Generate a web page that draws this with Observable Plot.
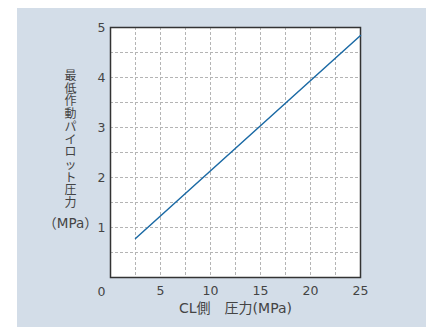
<!DOCTYPE html>
<html><head><meta charset="utf-8">
<script src="https://cdn.jsdelivr.net/npm/d3@7"></script>
<script src="https://cdn.jsdelivr.net/npm/@observablehq/plot@0.6"></script>
<style>
html,body{margin:0;padding:0;background:#fff;}
#wrap{position:relative;width:432px;height:327px;overflow:hidden;}
#bg{position:absolute;left:17px;top:8px;width:409px;height:319px;background:#d3dde8;}
#chart{position:absolute;left:0;top:0;}
</style></head>
<body>
<div id="wrap"><div id="bg"></div><div id="chart"></div></div>
<script>
const clPressure = [2.5, 25];
const pilotPressure = [0.78, 4.84];
const xTicks = [5, 10, 15, 20, 25];
const yTicks = [1, 2, 3, 4, 5];
const xGrid = [2.5, 5, 7.5, 10, 12.5, 15, 17.5, 20, 22.5];
const yGrid = [0.5, 1, 1.5, 2, 2.5, 3, 3.5, 4, 4.5];
const yLabel = "最低作動パイロット圧力";
const yUnit = "（MPa）";
const xLabel = "CL側　圧力(MPa)";

const data = clPressure.map((x, i) => ({x, y: pilotPressure[i]}));
const font = "'DejaVu Sans', 'Noto Sans CJK JP', sans-serif";

const chart = Plot.plot({
  width: 432, height: 327,
  marginLeft: 110, marginRight: 72, marginTop: 27, marginBottom: 50,
  style: {background: "transparent", fontFamily: font, fontSize: "12.5px", color: "#444"},
  x: {domain: [0, 25]},
  y: {domain: [0, 5]},
  marks: [
    Plot.frame({fill: "white", stroke: "none"}),
    Plot.ruleX(xGrid, {stroke: "#b4b4b4", strokeDasharray: "3,2", strokeWidth: 1}),
    Plot.ruleY(yGrid, {stroke: "#b4b4b4", strokeDasharray: "3,2", strokeWidth: 1}),
    Plot.frame({stroke: "#333", strokeWidth: 1.5}),
    Plot.axisX({ticks: xTicks, tickFormat: "d", tickSize: 0, tickPadding: 9, label: null, fill: "#444", fontSize: 12.5}),
    Plot.axisY({ticks: yTicks, tickFormat: "d", tickSize: 0, tickPadding: 5, label: null, fill: "#444", fontSize: 12.5}),
    Plot.text(["0"], {x: 0, y: 0, dx: -5, dy: 14, textAnchor: "end", fill: "#444", fontSize: 12.5}),
    Plot.line(data, {x: "x", y: "y", stroke: "#1b6aa5", strokeWidth: 1.5}),
    Plot.text([yLabel.split("").join("\n")], {frameAnchor: "left", dx: -40, dy: -13, lineHeight: 1.06, fill: "#444", fontSize: 12, textAnchor: "middle"}),
    Plot.text([yUnit], {frameAnchor: "bottom-left", dx: -40, dy: -50, fill: "#444", fontSize: 13.5, textAnchor: "middle"}),
    Plot.text([xLabel], {frameAnchor: "bottom", dy: 35, fill: "#444", fontSize: 14, textAnchor: "middle"})
  ]
});
document.getElementById("chart").appendChild(chart);
</script>
</body></html>
